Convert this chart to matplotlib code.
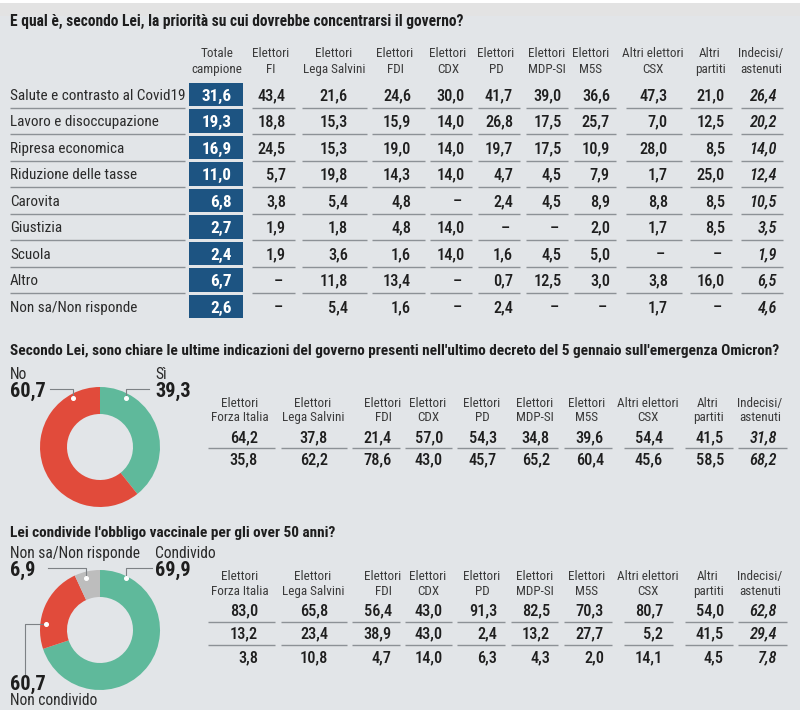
import matplotlib
matplotlib.use("Agg")
import matplotlib.pyplot as plt
from matplotlib import font_manager as fm
from matplotlib.patches import Rectangle

# ---------------- data ----------------
title_priority = "E qual è, secondo Lei, la priorità su cui dovrebbe concentrarsi il governo?"
priority_categories = ["Salute e contrasto al Covid19", "Lavoro e disoccupazione", "Ripresa economica",
                       "Riduzione delle tasse", "Carovita", "Giustizia", "Scuola", "Altro",
                       "Non sa/Non risponde"]
total_header = "Totale\ncampione"
totale = [31.6, 19.3, 16.9, 11.0, 6.8, 2.7, 2.4, 6.7, 2.6]
priority_groups = ["Elettori\nFI", "Elettori\nLega Salvini", "Elettori\nFDI", "Elettori\nCDX",
                   "Elettori\nPD", "Elettori\nMDP-SI", "Elettori\nM5S", "Altri elettori\nCSX",
                   "Altri\npartiti", "Indecisi/\nastenuti"]
fi = [43.4, 18.8, 24.5, 5.7, 3.8, 1.9, 1.9, None, None]
lega = [21.6, 15.3, 15.3, 19.8, 5.4, 1.8, 3.6, 11.8, 5.4]
fdi = [24.6, 15.9, 19.0, 14.3, 4.8, 4.8, 1.6, 13.4, 1.6]
cdx = [30.0, 14.0, 14.0, 14.0, None, 14.0, 14.0, None, None]
pd_ = [41.7, 26.8, 19.7, 4.7, 2.4, None, 1.6, 0.7, 2.4]
mdp = [39.0, 17.5, 17.5, 4.5, 4.5, None, 4.5, 12.5, None]
m5s = [36.6, 25.7, 10.9, 7.9, 8.9, 2.0, 5.0, 3.0, None]
csx = [47.3, 7.0, 28.0, 1.7, 8.8, 1.7, None, 3.8, 1.7]
altri = [21.0, 12.5, 8.5, 25.0, 8.5, 8.5, None, 16.0, None]
indecisi = [26.4, 20.2, 14.0, 12.4, 10.5, 3.5, 1.9, 6.5, 4.6]
priority_table = [fi, lega, fdi, cdx, pd_, mdp, m5s, csx, altri, indecisi]

title_omicron = ("Secondo Lei, sono chiare le ultime indicazioni del governo presenti nell'ultimo "
                 "decreto del 5 gennaio sull'emergenza Omicron?")
omicron_labels = ["Sì", "No"]
omicron_values = [39.3, 60.7]
omicron_value_text = ["39,3", "60,7"]
voter_groups = ["Elettori\nForza Italia", "Elettori\nLega Salvini", "Elettori\nFDI", "Elettori\nCDX",
                "Elettori\nPD", "Elettori\nMDP-SI", "Elettori\nM5S", "Altri elettori\nCSX",
                "Altri\npartiti", "Indecisi/\nastenuti"]
omicron_row1 = [64.2, 37.8, 21.4, 57.0, 54.3, 34.8, 39.6, 54.4, 41.5, 31.8]
omicron_row2 = [35.8, 62.2, 78.6, 43.0, 45.7, 65.2, 60.4, 45.6, 58.5, 68.2]

title_vaccine = "Lei condivide l'obbligo vaccinale per gli over 50 anni?"
vaccine_labels = ["Condivido", "Non condivido", "Non sa/Non risponde"]
vaccine_values = [69.9, 23.2, 6.9]
vaccine_value_text = ["69,9", "60,7", "6,9"]
vaccine_row1 = [83.0, 65.8, 56.4, 43.0, 91.3, 82.5, 70.3, 80.7, 54.0, 62.8]
vaccine_row2 = [13.2, 23.4, 38.9, 43.0, 2.4, 13.2, 27.7, 5.2, 41.5, 29.4]
vaccine_row3 = [3.8, 10.8, 4.7, 14.0, 6.3, 4.3, 2.0, 14.1, 4.5, 7.8]

# ---------------- style ----------------
BG = "#e2e5e8"
BLUE = "#1d5482"
GREEN = "#5fb99b"
RED = "#e14b3b"
GREY = "#bdbdbd"
LINE = "#8c9196"
INK = "#1e1e1e"
HEAD = "#3a3a3a"

names = {f.name for f in fm.fontManager.ttflist}
FONT, SCALE = "Roboto", 1.0
for cand, sc in [("Roboto Condensed", 1.12), ("Liberation Sans Narrow", 1.18)]:
    if cand in names:
        FONT, SCALE = cand, sc
        break
if FONT == "Roboto" and "Roboto" not in names:
    FONT = "DejaVu Sans"
    SCALE = 0.9
plt.rcParams["font.family"] = [FONT, "DejaVu Sans"]


def fmt(v):
    return "–" if v is None else f"{v:.1f}".replace(".", ",")


fig = plt.figure(figsize=(8, 7.1), dpi=100, facecolor=BG)
base = fig.add_axes([0, 0, 1, 1])
base.set_xlim(0, 800)
base.set_ylim(710, 0)
base.axis("off")
base.add_patch(Rectangle((0, 0), 800, 3, color="white", lw=0))
base.add_patch(Rectangle((0, 3), 800, 13, color="#e3e3e3", lw=0))


def donut_axes(cx, cy, r):
    return fig.add_axes([(cx - r) / 800, (710 - cy - r) / 710, 2 * r / 800, 2 * r / 710])


# donuts
d1 = donut_axes(100, 447, 60)
d1.pie(omicron_values, colors=[GREEN, RED], startangle=90, counterclock=False,
       wedgeprops=dict(width=0.45, linewidth=0))
d1.set_xlim(-1, 1); d1.set_ylim(-1, 1); d1.axis("off")

d2 = donut_axes(100, 630, 60)
d2.pie(vaccine_values, colors=[GREEN, RED, GREY], startangle=90, counterclock=False,
       wedgeprops=dict(width=0.45, linewidth=0))
d2.set_xlim(-1, 1); d2.set_ylim(-1, 1); d2.axis("off")

ov = fig.add_axes([0, 0, 1, 1], zorder=10)
ov.set_xlim(0, 800)
ov.set_ylim(710, 0)
ov.axis("off")
ov.patch.set_alpha(0)


def T(x, yc, s, size, ha="left", weight="normal", color=INK, style="normal"):
    size = size * SCALE
    px = size * 100 / 72
    ov.text(x, yc + 0.355 * px, s, fontsize=size, ha=ha, va="baseline", fontweight=weight,
            color=color, fontstyle=style)


def hline(x0, x1, y, color=LINE, lw=1.0):
    ov.plot([x0, x1], [y, y], color=color, lw=lw, solid_capstyle="butt")


def header(xc, y1, y2, s, size=8.4):
    parts = s.split("\n")
    T(xc, y1, parts[0], size, ha="center", color=HEAD)
    if len(parts) > 1:
        T(xc, y2, parts[1], size, ha="center", color=HEAD)


# ---------------- section 1 ----------------
T(10, 20, title_priority, 10.0, weight="bold")
row0, pitch = 94.5, 26.5
header(217, 52, 68, total_header)
top_centers = [271, 334, 395, 448, 496, 547, 591, 653, 710, 761]
top_right = [286, 348, 411, 465, 513, 562, 610, 668, 725, 777]
top_lines = [(252, 295), (302, 367), (372, 425), (430, 472), (478, 520), (526, 568),
             (574, 616), (626, 682), (690, 732), (741, 783)]
for xc, g in zip(top_centers, priority_groups):
    header(xc, 52, 68, g)

for i, cat in enumerate(priority_categories):
    yc = row0 + i * pitch
    T(10, yc, cat, 9.7, color="#2a2a2a")
    ov.add_patch(Rectangle((189, yc - 11.75), 54, 23.5, color=BLUE, lw=0))
    T(232, yc, fmt(totale[i]), 11, ha="right", weight="bold", color="white")
    for j, col in enumerate(priority_table):
        s = fmt(col[i])
        xr = top_right[j] - (3 if col[i] is None else 0)
        T(xr, yc, s, 10.5, ha="right", weight="medium",
          style="italic" if j == len(priority_table) - 1 else "normal")
    if i < len(priority_categories) - 1:
        yl = yc + pitch / 2
        hline(10, 185, yl)
        for (a, b) in top_lines:
            hline(a, b, yl)

# ---------------- section 2 ----------------
T(10, 350, title_omicron, 9.8, weight="bold")
T(10, 373, omicron_labels[1], 10, color="#2a2a2a")
T(10, 390, omicron_value_text[1], 13, weight="bold")
T(155, 373, omicron_labels[0], 10, color="#2a2a2a")
T(155, 390, omicron_value_text[0], 13, weight="bold")
ov.plot([50, 73, 73], [389, 389, 398], color="#7d8185", lw=0.8)
ov.plot([149, 126, 126], [389, 389, 398], color="#7d8185", lw=0.8)
ov.plot([73, 126], [398, 398], ls="none", marker="o", ms=2.6, mfc="white", mec="white")

mid_centers = [240, 313, 383, 428, 482, 535, 587, 648, 708, 760]
mid_right = [258, 328, 392, 443, 497, 550, 604, 663, 724, 777]
mid_lines = [(208, 275), (281, 347), (352, 400), (405, 452), (457, 505), (511, 558),
             (564, 612), (624, 673), (685, 733), (738, 787)]
for j, g in enumerate(voter_groups):
    header(mid_centers[j], 402, 416, g)
    it = "italic" if j == len(voter_groups) - 1 else "normal"
    T(mid_right[j], 437, fmt(omicron_row1[j]), 10.5, ha="right", weight="medium", style=it)
    T(mid_right[j], 459, fmt(omicron_row2[j]), 10.5, ha="right", weight="medium", style=it)
    hline(*mid_lines[j], 447.5)

# ---------------- section 3 ----------------
T(10, 532, title_vaccine, 9.8, weight="bold")
T(10, 552, vaccine_labels[2], 10, color="#2a2a2a")
T(10, 569, vaccine_value_text[2], 13, weight="bold")
T(155, 552, vaccine_labels[0], 10, color="#2a2a2a")
T(155, 569, vaccine_value_text[0], 13, weight="bold")
T(10, 683, vaccine_value_text[1], 13, weight="bold")
T(10, 699, vaccine_labels[1], 10, color="#2a2a2a")
ov.plot([48, 86, 86], [568, 568, 578], color="#7d8185", lw=0.8)
ov.plot([152, 126, 126], [568, 568, 578], color="#7d8185", lw=0.8)
ov.plot([46, 25, 25], [624, 624, 675], color="#7d8185", lw=0.8)
ov.plot([86, 126, 46], [578, 578, 624], ls="none", marker="o", ms=2.6, mfc="white", mec="white")

for j, g in enumerate(voter_groups):
    header(mid_centers[j], 575, 590, g)
    it = "italic" if j == len(voter_groups) - 1 else "normal"
    T(mid_right[j], 610, fmt(vaccine_row1[j]), 10.5, ha="right", weight="medium", style=it)
    T(mid_right[j], 633, fmt(vaccine_row2[j]), 10.5, ha="right", weight="medium", style=it)
    T(mid_right[j], 657, fmt(vaccine_row3[j]), 10.5, ha="right", weight="medium", style=it)
    hline(*mid_lines[j], 622)
    hline(*mid_lines[j], 644.5)

fig.savefig("out.png", dpi=100, facecolor=BG)
